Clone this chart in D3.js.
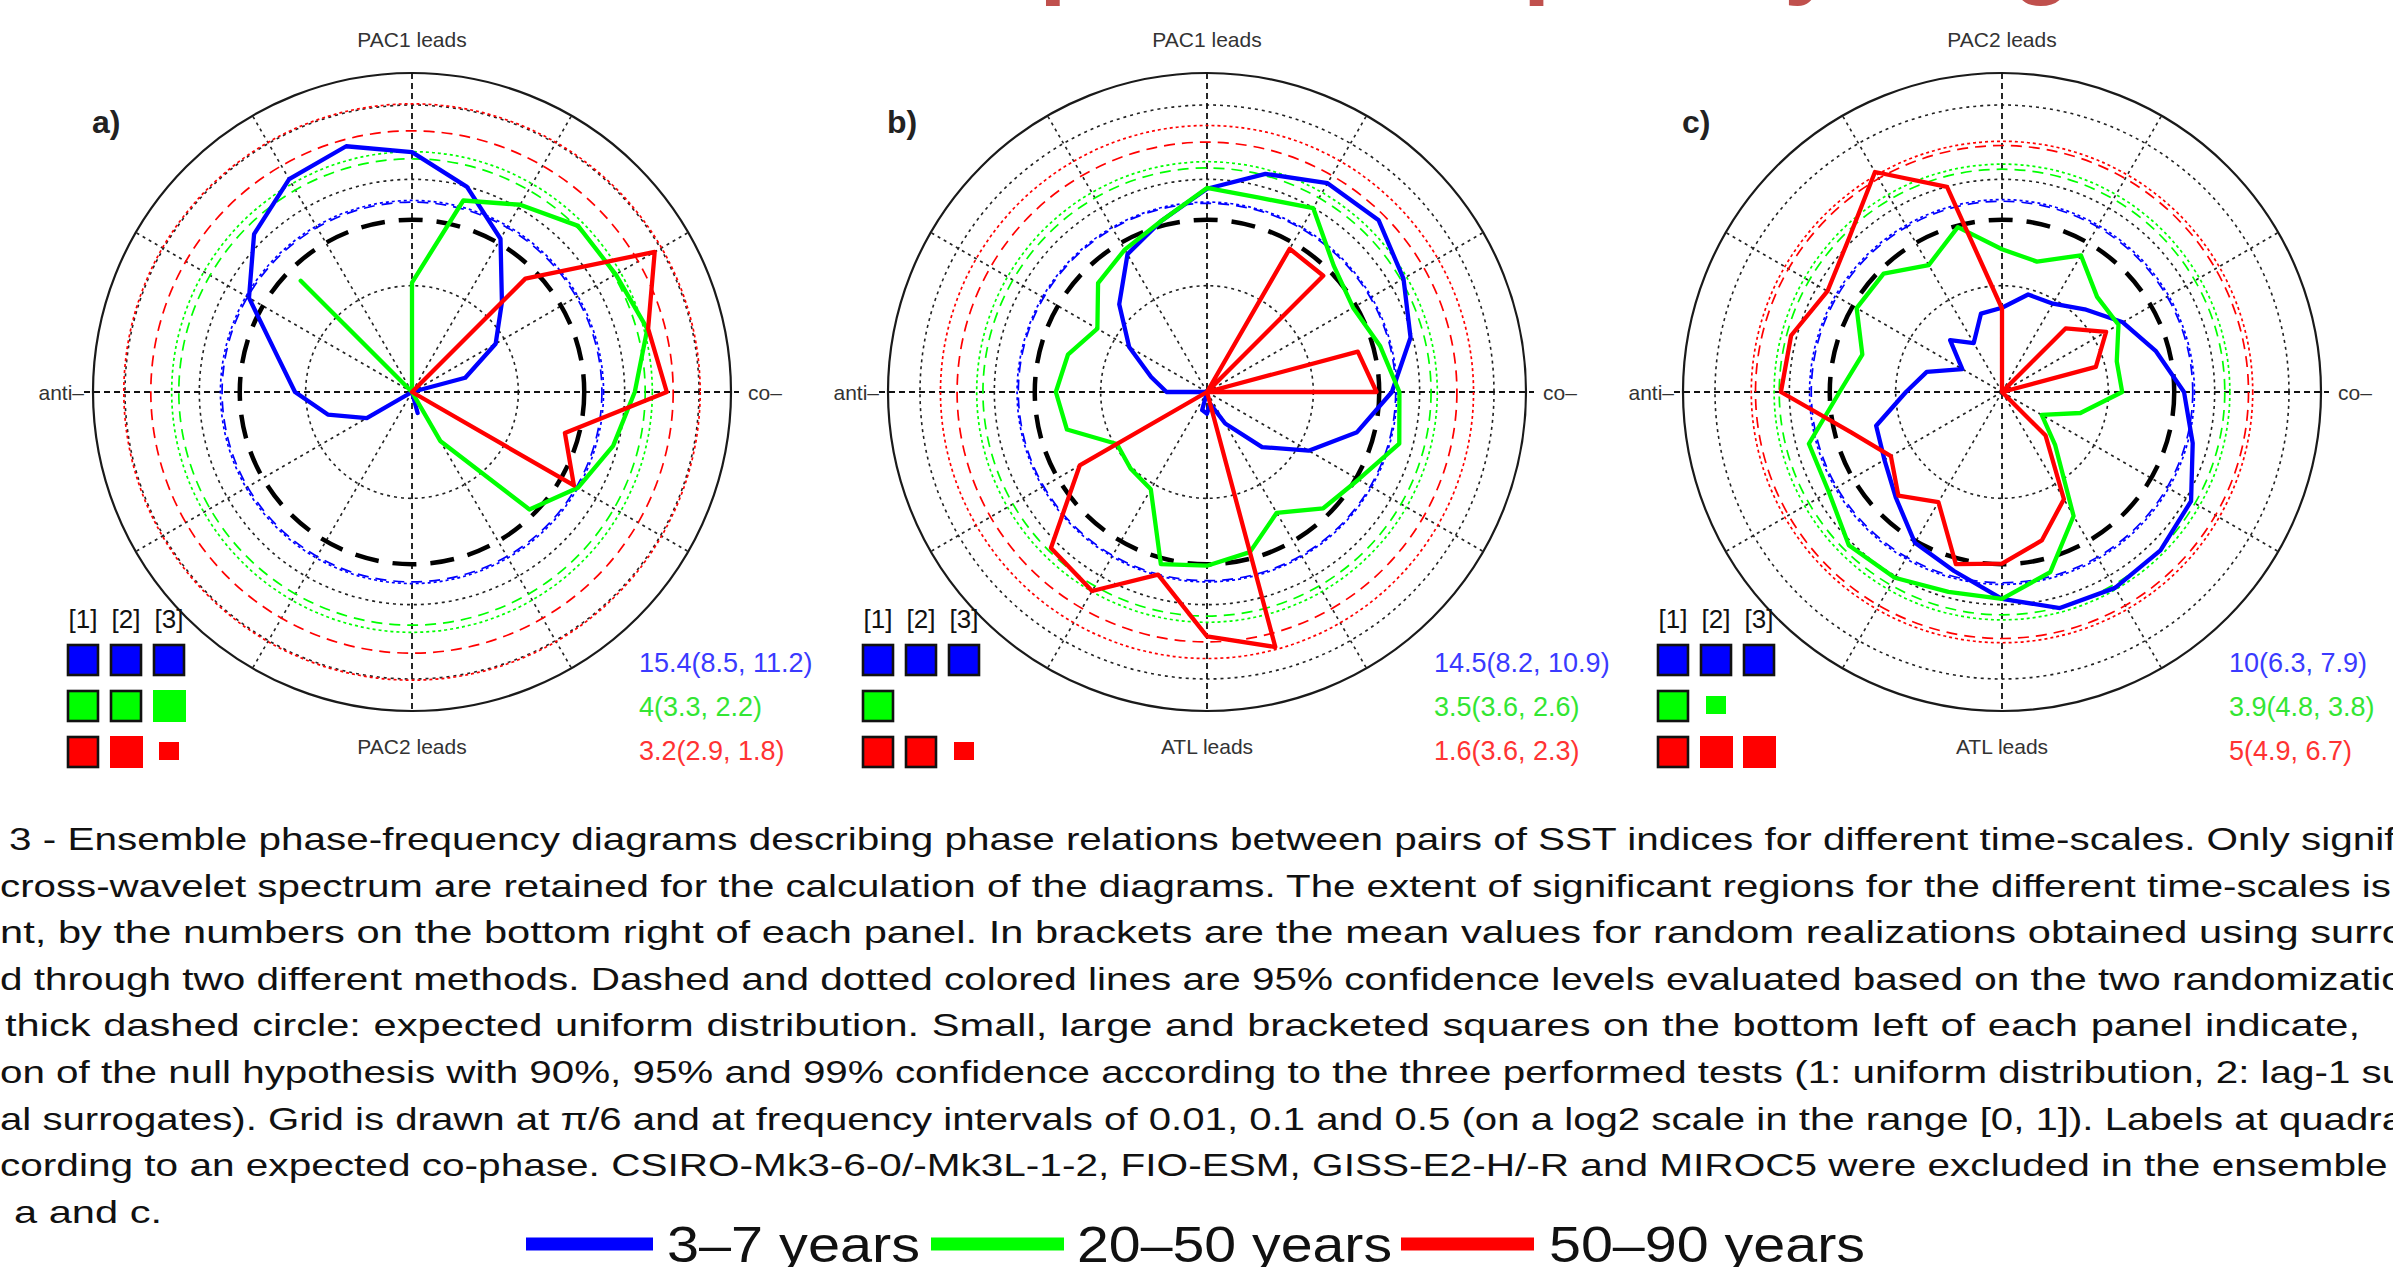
<!DOCTYPE html>
<html>
<head>
<meta charset="utf-8">
<script src="https://cdn.jsdelivr.net/npm/d3@7"></script>
<style>
  body { margin: 0; background: #fff; }
  svg { display: block; }
  text { font-family: "Liberation Sans", Arial, Helvetica, sans-serif; }
</style>
</head>
<body>
<svg width="2393" height="1267"></svg>
<script>
// phase bins (degrees, counter-clockwise from "co-")
var phaseBins = [0, 15, 30, 45, 60, 75, 90, 105, 120, 135, 150, 165,
                 180, 195, 210, 225, 240, 255, 270, 285, 300, 315, 330, 345];

// grid
var gridFreqs = [0.01, 0.1, 0.5];
var spokeAngles = [30, 60, 120, 150, 210, 240, 300, 330];
var uniformFreq = 1 / 24;

// panel labels
var panelLetters = ["a)", "b)", "c)"];
var leadTop = ["PAC1 leads", "PAC1 leads", "PAC2 leads"];
var leadBottom = ["PAC2 leads", "ATL leads", "ATL leads"];
var seriesNames = ["3\u20137 years", "20\u201350 years", "50\u201390 years"];

// frequencies per phase bin -- panel a
var a3to7 = [0, 0.0033, 0.0081, 0.0157, 0.0462, 0.0994, 0.180, 0.247, 0.2045, 0.126, 0.0589, 0.0205,
             0.0126, 0.0066, 0.0031, 0, 0, 0, 0, 0.0016, 0, 0, 0, 0];
var a20to50 = [0.1245, 0.1955, 0.163, 0.162, 0.108, 0.0732, 0.0107, 0, 0, 0.0302, 0, 0,
               0, 0, 0, 0, 0, 0, 0, 0, 0.0034, 0.0365, 0.0633, 0.0908];
var a50to90 = [0.249, 0.199, 0.432, 0.0322, 0, 0, 0, 0, 0, 0, 0, 0,
               0, 0, 0, 0, 0, 0, 0, 0, 0, 0, 0.0573, 0.0308];

// panel b
var b3to7 = [0.0548, 0.0959, 0.136, 0.192, 0.185, 0.133, 0.0815, 0.0462, 0.0313, 0.0147, 0.0070, 0.0035,
             0.0024, 0, 0, 0, 0, 0.0015, 0.0016, 0.0013, 0.0022, 0.0054, 0.0127, 0.0289];
var b20to50 = [0.0645, 0.0483, 0.0386, 0.0483, 0.0994, 0.0779, 0.0830, 0.0462, 0.0352, 0.0281, 0.0155, 0.0226,
               0.0264, 0.0231, 0.0095, 0.0104, 0.0114, 0.0475, 0.0430, 0.0362, 0.0205, 0.0352, 0.0442, 0.0745];
var b50to90 = [0.0393, 0.0294, 0, 0.0352, 0.0359, 0, 0, 0, 0, 0, 0, 0,
               0, 0, 0.0241, 0.119, 0.145, 0.060, 0.199, 0.304, 0, 0, 0, 0];

// panel c
var c3to7 = [0.0515, 0.0313, 0.0205, 0.0126, 0.0091, 0.0089, 0.0062, 0.0058, 0.0034, 0.0049, 0.0027, 0.0054,
             0.0080, 0.0168, 0.0189, 0.0257, 0.0434, 0.0553, 0.0884, 0.127, 0.134, 0.128, 0.113, 0.0719];
var c20to50 = [0.0135, 0.0131, 0.0184, 0.0184, 0.0305, 0.0186, 0.0220, 0.0403, 0.0239, 0.0375, 0.0379, 0.0229,
               0.0337, 0.0759, 0.0759, 0.109, 0.104, 0.0884, 0.0884, 0.0568, 0.0222, 0.0051, 0.0027, 0.0058];
var c50to90 = [0, 0.0082, 0.0135, 0.0070, 0, 0, 0.0061, 0.0994, 0.245, 0.109, 0.0786, 0.113,
               0.120, 0.0294, 0.0161, 0.0239, 0.0157, 0.0475, 0.0411, 0.0279, 0.0146, 0.0038, 0, 0];

// 95% confidence levels [3-7, 20-50, 50-90]
var confDashed = [[0.0611, 0.156, 0.286], [0.0595, 0.128, 0.224], [0.0622, 0.1245, 0.208]];
var confDotted = [[0.0633, 0.182, 0.513], [0.0611, 0.1465, 0.321], [0.0645, 0.139, 0.228]];

// extent of significant regions: value (method 1, method 2)
var extentA = [[15.4, 8.5, 11.2], [4, 3.3, 2.2], [3.2, 2.9, 1.8]];
var extentB = [[14.5, 8.2, 10.9], [3.5, 3.6, 2.6], [1.6, 3.6, 2.3]];
var extentC = [[10, 6.3, 7.9], [3.9, 4.8, 3.8], [5, 4.9, 6.7]];

// test results: 3 = 99% (bracketed), 2 = 95% (large), 1 = 90% (small), 0 = none
var testsA = [[3, 3, 3], [3, 3, 2], [3, 2, 1]];
var testsB = [[3, 3, 3], [3, 0, 0], [3, 3, 1]];
var testsC = [[3, 3, 3], [3, 1, 0], [3, 2, 2]];

var captionLines = [
  "3 - Ensemble phase-frequency diagrams describing phase relations between pairs of SST indices for different time-scales. Only signifi",
  "cross-wavelet spectrum are retained for the calculation of the diagrams. The extent of significant regions for the different time-scales is",
  "nt, by the numbers on the bottom right of each panel. In brackets are the mean values for random realizations obtained using surro",
  "d through two different methods. Dashed and dotted colored lines are 95% confidence levels evaluated based on the two randomizatio",
  "thick dashed circle: expected uniform distribution. Small, large and bracketed squares on the bottom left of each panel indicate,",
  "on of the null hypothesis with 90%, 95% and 99% confidence according to the three performed tests (1: uniform distribution, 2: lag-1 su",
  "al surrogates). Grid is drawn at \u03c0/6 and at frequency intervals of 0.01, 0.1 and 0.5 (on a log2 scale in the range [0, 1]). Labels at quadra",
  "cording to an expected co-phase. CSIRO-Mk3-6-0/-Mk3L-1-2, FIO-ESM, GISS-E2-H/-R and MIROC5 were excluded in the ensemble",
  "a and c."
];

var panelSeries = [[a3to7, a20to50, a50to90], [b3to7, b20to50, b50to90], [c3to7, c20to50, c50to90]];
var panelExtent = [extentA, extentB, extentC];
var panelTests = [testsA, testsB, testsC];

// ---- layout / style
var svg = d3.select("svg");
var centersX = [412, 1207, 2002], cy = 392, R = 319;
var lineColors = ["#0000ff", "#00ff00", "#ff0000"];
var textColors = ["#3a3aff", "#33e633", "#ff3333"];

var rScale = d3.scaleLog().base(2).domain([0.001, 1]).range([0, R]).clamp(true);
var rad = function (v) { return v > 0.001 ? rScale(v) : 0; };
var polarX = function (deg, r) { return r * Math.cos(deg * Math.PI / 180); };
var polarY = function (deg, r) { return -r * Math.sin(deg * Math.PI / 180); };

var radialLine = d3.lineRadial()
  .angle(function (d, i) { return Math.PI / 2 - phaseBins[i] * Math.PI / 180; })
  .radius(function (d) { return rad(d); })
  .curve(d3.curveLinearClosed);

// title bits cut off at the top
svg.append("text")
  .attr("x", 1039).attr("y", -15)
  .attr("font-size", 100).attr("font-weight", "bold")
  .attr("fill", "#c0504d")
  .text("phase-frequency diagrams");

function drawPanel(p) {
  var cx = centersX[p];
  var g = svg.append("g").attr("transform", "translate(" + cx + "," + cy + ")");

  // outer circle
  g.append("circle").attr("r", rScale(1))
    .attr("fill", "none").attr("stroke", "#1a1a1a").attr("stroke-width", 2.2);

  // grid circles
  g.selectAll("circle.grid").data(gridFreqs).join("circle")
    .attr("class", "grid")
    .attr("r", function (d) { return rScale(d); })
    .attr("fill", "none").attr("stroke", "#222")
    .attr("stroke-width", 1.6).attr("stroke-dasharray", "3,4");

  // spokes every pi/6
  g.selectAll("line.spoke").data(spokeAngles).join("line")
    .attr("class", "spoke")
    .attr("x1", 0).attr("y1", 0)
    .attr("x2", function (d) { return polarX(d, R); })
    .attr("y2", function (d) { return polarY(d, R); })
    .attr("stroke", "#222").attr("stroke-width", 1.6).attr("stroke-dasharray", "3,4");

  // quadrant axes
  g.append("line").attr("x1", -R - 9).attr("x2", R + 8).attr("y1", 0).attr("y2", 0)
    .attr("stroke", "#111").attr("stroke-width", 1.8).attr("stroke-dasharray", "6,4");
  g.append("line").attr("x1", 0).attr("x2", 0).attr("y1", -R).attr("y2", R)
    .attr("stroke", "#111").attr("stroke-width", 1.8).attr("stroke-dasharray", "6,4");

  // 95% confidence levels
  g.selectAll("circle.confd").data(confDashed[p]).join("circle")
    .attr("class", "confd")
    .attr("r", function (d) { return rad(d); })
    .attr("fill", "none")
    .attr("stroke", function (d, i) { return lineColors[i]; })
    .attr("stroke-width", 1.7).attr("stroke-dasharray", "11,7");
  g.selectAll("circle.confo").data(confDotted[p]).join("circle")
    .attr("class", "confo")
    .attr("r", function (d) { return rad(d); })
    .attr("fill", "none")
    .attr("stroke", function (d, i) { return lineColors[i]; })
    .attr("stroke-width", 1.7).attr("stroke-dasharray", "3,3");

  // expected uniform distribution
  g.append("circle").attr("r", rScale(uniformFreq))
    .attr("fill", "none").attr("stroke", "#000")
    .attr("stroke-width", 4.5).attr("stroke-dasharray", "24,14");

  // phase-frequency polygons
  g.selectAll("path.series").data(panelSeries[p]).join("path")
    .attr("class", "series")
    .attr("d", radialLine)
    .attr("fill", "none")
    .attr("stroke", function (d, i) { return lineColors[i]; })
    .attr("stroke-width", 4.3)
    .attr("stroke-linejoin", "round");

  // labels
  g.append("text").attr("x", -320).attr("y", -259)
    .attr("font-size", 32).attr("font-weight", "bold").attr("fill", "#222")
    .text(panelLetters[p]);
  g.append("text").attr("x", 0).attr("y", 47 - cy).attr("text-anchor", "middle")
    .attr("font-size", 21).attr("fill", "#333").text(leadTop[p]);
  g.append("text").attr("x", 0).attr("y", 754 - cy).attr("text-anchor", "middle")
    .attr("font-size", 21).attr("fill", "#333").text(leadBottom[p]);
  g.append("text").attr("x", -R - 9).attr("y", 8).attr("text-anchor", "end")
    .attr("font-size", 21).attr("fill", "#333").text("anti\u2013");
  g.append("text").attr("x", R + 17).attr("y", 8)
    .attr("font-size", 21).attr("fill", "#333").text("co\u2013");

  // test squares
  ["[1]", "[2]", "[3]"].forEach(function (t, c) {
    g.append("text").attr("x", -329 + c * 43).attr("y", 236).attr("text-anchor", "middle")
      .attr("font-size", 26).attr("fill", "#111").text(t);
  });
  panelTests[p].forEach(function (row, s) {
    row.forEach(function (lvl, c) {
      if (!lvl) return;
      var x0 = -345 + c * 43, y0 = 252 + s * 46, size = 32;
      var sq = g.append("rect").attr("fill", lineColors[s]);
      if (lvl === 3) {
        sq.attr("x", x0 + 1).attr("y", y0 + 1).attr("width", size - 2).attr("height", size - 2)
          .attr("stroke", "#111").attr("stroke-width", 2.6);
      } else if (lvl === 2) {
        sq.attr("x", x0).attr("y", y0).attr("width", size + 1).attr("height", size);
      } else {
        sq.attr("x", x0 + 6).attr("y", y0 + 6).attr("width", 20).attr("height", 18);
      }
    });
  });

  // extents
  panelExtent[p].forEach(function (e, s) {
    g.append("text").attr("x", 227).attr("y", 280 + s * 44)
      .attr("font-size", 27).attr("fill", textColors[s])
      .text(e[0] + "(" + e[1] + ", " + e[2] + ")");
  });
}

[0, 1, 2].forEach(drawPanel);

// caption, justified (glyphs are a bit wide in the original)
var capX0 = [9, 0, 0, 0, 5, 0, 0, 0, 14];
var capX1 = [2405, 2392, 2405, 2405, 2360, 2405, 2405, 2388, null];
var capStretch = 1.3;
captionLines.forEach(function (line, i) {
  var y = 850 + i * 46.6;
  var t = svg.append("text")
    .attr("font-size", 32).attr("fill", "#111")
    .attr("transform", "translate(" + capX0[i] + "," + y + ") scale(" + capStretch + ",1)")
    .text(line);
  if (capX1[i] === null) return;
  var natural = t.node().getComputedTextLength();
  var target = (capX1[i] - capX0[i]) / capStretch;
  var spaces = line.split(" ").length - 1;
  if (natural > target) {
    t.attr("transform", "translate(" + capX0[i] + "," + y + ") scale(" +
      ((capX1[i] - capX0[i]) / natural) + ",1)");
  } else {
    t.attr("word-spacing", (target - natural) / spaces);
  }
});

// legend
var legBarX = [[526, 653], [931, 1064], [1401, 1534]];
var legTextX = [[667, 920], [1077, 1392], [1549, 1865]];
seriesNames.forEach(function (name, s) {
  svg.append("line")
    .attr("x1", legBarX[s][0]).attr("x2", legBarX[s][1])
    .attr("y1", 1244).attr("y2", 1244)
    .attr("stroke", lineColors[s]).attr("stroke-width", 13);
  svg.append("text")
    .attr("x", legTextX[s][0]).attr("y", 1262)
    .attr("font-size", 50).attr("fill", "#111")
    .attr("textLength", legTextX[s][1] - legTextX[s][0])
    .attr("lengthAdjust", "spacingAndGlyphs")
    .text(name);
});
</script>
</body>
</html>
